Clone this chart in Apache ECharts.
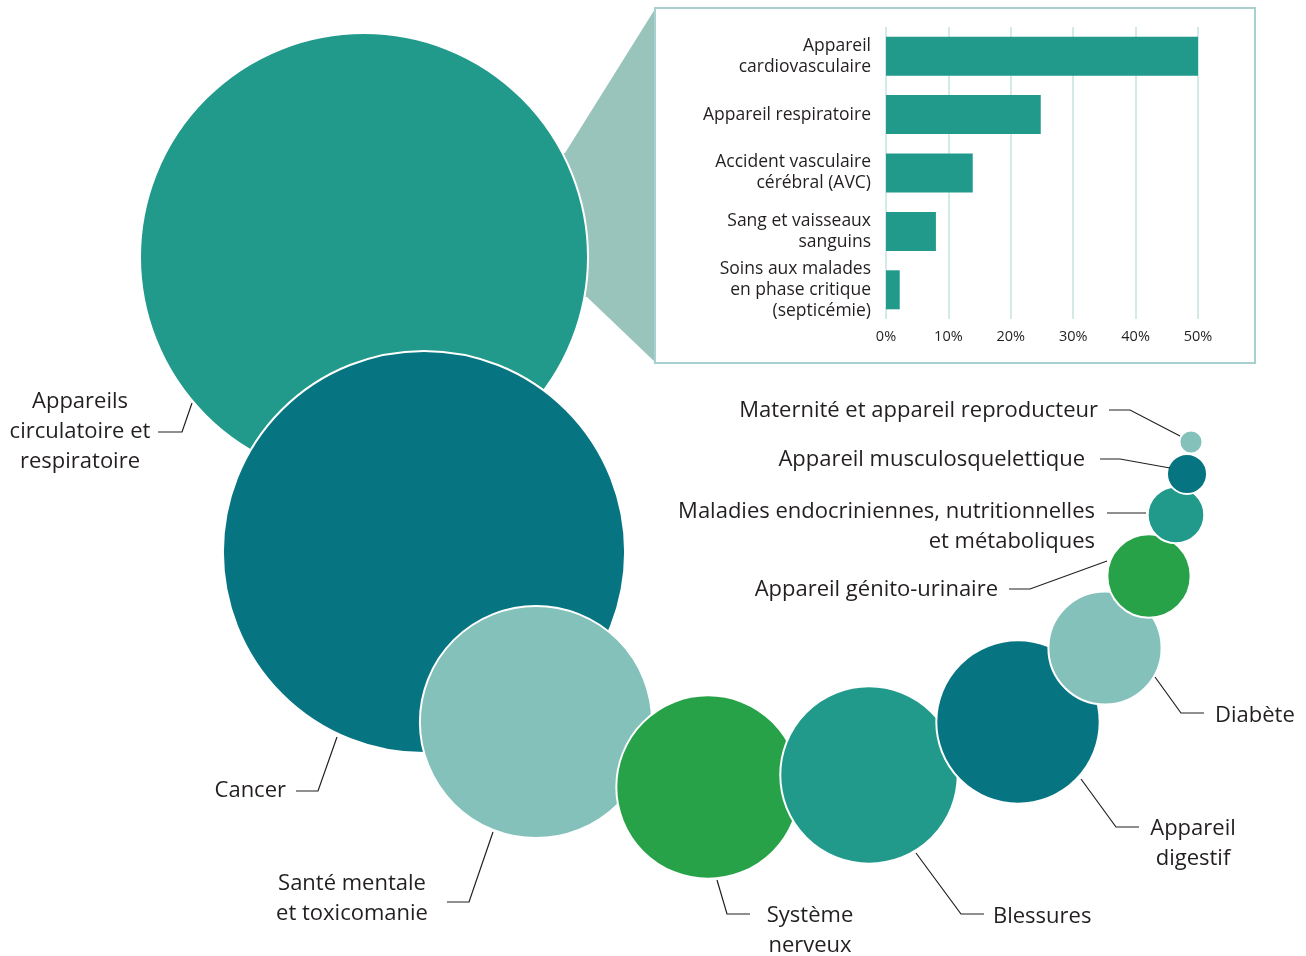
<!DOCTYPE html>
<html>
<head>
<meta charset="utf-8">
<script src="https://cdn.jsdelivr.net/npm/echarts@6/dist/echarts.min.js"></script>
<style>
html,body{margin:0;padding:0;background:#fff;}
#chart{width:1306px;height:956px;}
</style>
</head>
<body>
<div id="chart"></div>
<script>
// ---------- DATA ----------
// Bubble categories and their shares (area-proportional values, %)
const bubbleNames = [
  "Appareils\ncirculatoire et\nrespiratoire",
  "Cancer",
  "Santé mentale\net toxicomanie",
  "Système\nnerveux",
  "Blessures",
  "Appareil\ndigestif",
  "Diabète",
  "Appareil génito-urinaire",
  "Maladies endocriniennes, nutritionnelles\net métaboliques",
  "Appareil musculosquelettique",
  "Maternité et appareil reproducteur"
];
const bubbleValues = [37.6, 30.3, 10.1, 6.3, 5.9, 5.0, 2.4, 1.3, 0.6, 0.3, 0.1];

// Inset bar chart (breakdown of circulatory & respiratory)
const barCategories = [
  "Appareil\ncardiovasculaire",
  "Appareil respiratoire",
  "Accident vasculaire\ncérébral (AVC)",
  "Sang et vaisseaux\nsanguins",
  "Soins aux malades\nen phase critique\n(septicémie)"
];
const barValues = [50, 24.8, 13.9, 8.0, 2.2];
const barTickMax = 50;
const barTickStep = 10;

// ---------- LAYOUT (positions on the hidden full-canvas axes) ----------
const bubbleCenters = [[364,257],[424,552],[536,722],[708,787],[869,775],[1018,722],[1105,648],[1149,576],[1176,515],[1187,474],[1191,442]];
const bubbleColors = ["#219A8C","#077482","#83C1BA","#27A248","#219A8C","#077482","#83C1BA","#27A248","#219A8C","#077482","#83C1BA"];
const radiusScale = 36.53; // px per sqrt(value)

const leaderLines = [
  [[192,403],[182,432],[158,432]],
  [[337,737],[318,791],[296,791]],
  [[493,832],[469,902],[447,902]],
  [[717,880],[727,914],[750,914]],
  [[916,853],[961,914],[984,914]],
  [[1081,779],[1116,827],[1139,827]],
  [[1155,677],[1181,713],[1204,713]],
  [[1107,561],[1030,589],[1009,589]],
  [[1146,513],[1107,513]],
  [[1170,468],[1120,459],[1100,459]],
  [[1180,436],[1130,410],[1109,410]]
];
const labelAnchors = [
  [80,432,"center"],[286,791,"right"],[352,899,"center"],[810,931,"center"],
  [993,917,"left"],[1193,844,"center"],[1215,716,"left"],[998,590,"right"],
  [1095,527,"right"],[1085,460,"right"],[1098,411,"right"]
];
const connectorPoly = [[364,200],[565,153],[655,9],[655,362],[587,297],[364,280]];
const insetBox = [655,8,1255,363];

const TEXT = "#231F20";
const FONT = '"Open Sans", "Noto Sans", sans-serif';

const chart = echarts.init(document.getElementById('chart'), null, {renderer:'canvas'});

const option = {
  animation: false,
  backgroundColor: '#ffffff',
  grid: [
    {left:0, top:0, width:1306, height:956},
    {left:886, top:27, width:312, height:292, z:10}
  ],
  xAxis: [
    {gridIndex:0, type:'value', min:0, max:1306, show:false},
    {gridIndex:1, type:'value', min:0, max:barTickMax, interval:barTickStep, z:10,
     axisLine:{show:false}, axisTick:{show:false},
     axisLabel:{formatter:'{value}%', fontSize:14.5, color:TEXT, fontFamily:FONT, margin:10},
     splitLine:{show:true, lineStyle:{color:'#D3EAE8', width:2}}}
  ],
  yAxis: [
    {gridIndex:0, type:'value', min:0, max:956, inverse:true, show:false},
    {gridIndex:1, type:'category', data:barCategories, inverse:true, z:10,
     axisLine:{show:false}, axisTick:{show:false},
     axisLabel:{fontSize:17.5, lineHeight:21, color:TEXT, fontFamily:FONT, margin:15, align:'right'}}
  ],
  series: [
    { // connector shape + inset frame
      type:'custom', xAxisIndex:0, yAxisIndex:0, z:1, silent:true,
      data:[0],
      renderItem: function(params, api){
        const pts = connectorPoly.map(p => api.coord(p));
        const a = api.coord([insetBox[0], insetBox[1]]);
        const b = api.coord([insetBox[2], insetBox[3]]);
        return {type:'group', children:[
          {type:'polygon', shape:{points:pts}, style:{fill:'#99C4BC'}},
          {type:'rect', shape:{x:a[0], y:a[1], width:b[0]-a[0], height:b[1]-a[1]},
           style:{fill:'none', stroke:'#A9D0D1', lineWidth:2}}
        ]};
      }
    },
    { // bubbles
      type:'scatter', xAxisIndex:0, yAxisIndex:0, z:3, silent:true,
      data: bubbleValues.map((v,i) => ({
        name: bubbleNames[i],
        value: [bubbleCenters[i][0], bubbleCenters[i][1], v],
        itemStyle:{color:bubbleColors[i], borderColor:'#ffffff', borderWidth:2, opacity:1}
      })),
      symbol:'circle',
      symbolSize: function(val){ return 2*radiusScale*Math.sqrt(val[2]); }
    },
    { // leader lines and labels
      type:'custom', xAxisIndex:0, yAxisIndex:0, z:4, silent:true,
      data: bubbleNames.map((n,i) => i),
      renderItem: function(params, api){
        const i = params.dataIndex;
        const pts = leaderLines[i].map(p => api.coord(p));
        const anc = api.coord([labelAnchors[i][0], labelAnchors[i][1]]);
        return {type:'group', children:[
          {type:'polyline', shape:{points:pts}, style:{stroke:TEXT, lineWidth:1.2, fill:null}},
          {type:'text', x:anc[0], y:anc[1], style:{
            text: bubbleNames[i], fill:TEXT, fontSize:22, fontFamily:FONT,
            lineHeight:30, align:labelAnchors[i][2], verticalAlign:'middle'}}
        ]};
      }
    },
    { // inset bars
      type:'bar', xAxisIndex:1, yAxisIndex:1, z:12, silent:true,
      data: barValues, barWidth:39,
      itemStyle:{color:'#219A8C'}
    }
  ]
};
chart.setOption(option);
</script>
</body>
</html>
